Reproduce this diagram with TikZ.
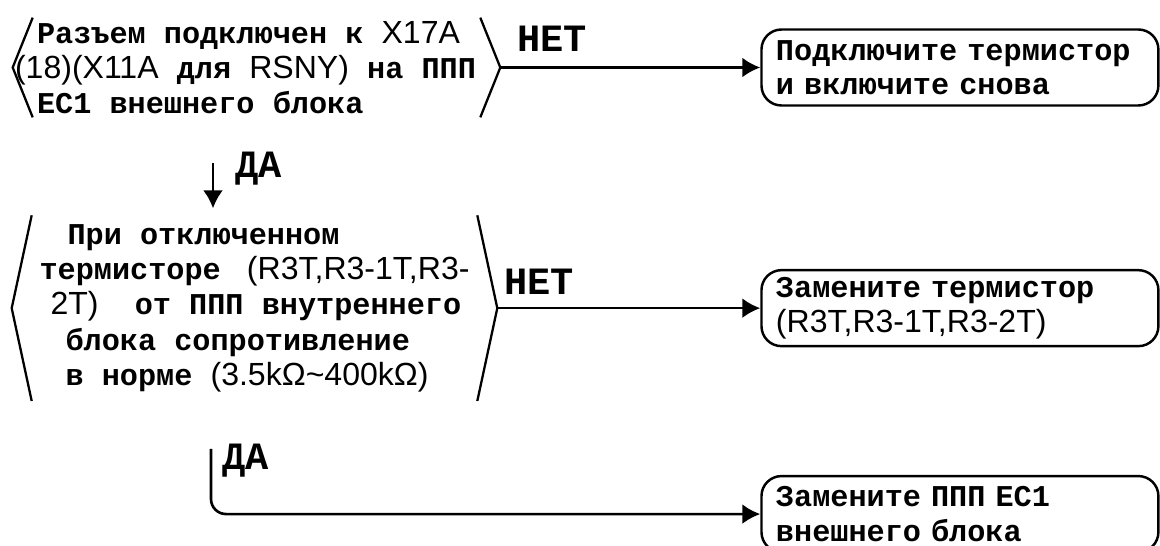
\documentclass[tikz,border=0pt]{standalone}
\usepackage{fontspec}
\setmonofont{Liberation Mono}
\newfontfamily\latfont{Liberation Sans}[Scale=1.06]
\newcommand{\latn}[1]{{\latfont\mdseries #1}}
\usetikzlibrary{positioning,calc,arrows.meta}

\begin{document}
\begin{tikzpicture}[
    x=0.02cm, y=-0.02cm,
    check/.style={rectangle, inner sep=0pt, align=left, font=\ttfamily\bfseries\fontsize{17.2pt}{20.1pt}\selectfont},
    side/.style={line width=1.3pt, line join=miter},
    action/.style={rectangle, rounded corners=0.4cm, draw=black, line width=1.4pt, text width=7.36cm, inner xsep=0.29cm, inner ysep=0pt, minimum height=1.52cm, align=left, font=\ttfamily\bfseries\fontsize{17.2pt}{19.6pt}\selectfont},
    answer/.style={inner sep=0pt, font=\ttfamily\bfseries\fontsize{22pt}{24pt}\selectfont},
    arrow/.style={-{Latex[length=0.36cm,width=0.4cm]}, line width=1.5pt}
]
\useasboundingbox (0,0) rectangle (1160,546);

\node[check, minimum width=9.74cm, minimum height=1.98cm] (dec1) at (256.5,67.5) {Разъем подключен к \latn{X17A}\\\hspace*{-0.44cm}\latn{(18)(X11A} для \latn{RSNY)} на ППП\\EC1 внешнего блока};
\node[check, minimum width=9.7cm, minimum height=3.7cm, below=1.96cm of dec1, xshift=-0.04cm] (dec2) {\hspace*{0.56cm}При отключенном\\термисторе~\hspace{0.16cm}\latn{(R3T,R3-1T,R3-}\\\hspace*{0.22cm}\latn{2T)}~~от ППП внутреннего\\\hspace*{0.52cm}блока сопротивление\\\hspace*{0.52cm}в норме \latn{(3.5kΩ\textasciitilde400kΩ)}};
\foreach \d in {dec1,dec2} {
    \draw[side] ([xshift=0.4cm]\d.north west) -- (\d.west) -- ([xshift=0.4cm]\d.south west);
    \draw[side] ([xshift=-0.4cm]\d.north east) -- (\d.east) -- ([xshift=-0.4cm]\d.south east);
}

\node[action, right=5.2cm of dec1] (act1) {Подключите термистор\\и включите снова};
\node[action, right=5.26cm of dec2] (act2) {Замените термистор\\\latn{(R3T,R3-1T,R3-2T)}};
\node[action, below=2.55cm of act2] (act3) {Замените ППП EC1\\внешнего блока};

\draw[arrow] (dec1.east) -- node[answer, above=0.3cm, pos=0.2] (no1) {НЕТ} (act1.west);
\draw[arrow] (dec2.east) -- node[answer, above=0.24cm, pos=0.16] (no2) {НЕТ} (act2.west);

\coordinate (yes1) at ([xshift=-0.87cm]dec1.south);
\draw[arrow, shorten <=0.92cm, shorten >=0.14cm] (yes1) -- (yes1 |- dec2.north);
\node[answer, anchor=west] (da1) at ([xshift=0.44cm,yshift=-1.02cm]yes1) {ДА};

\coordinate (yes2) at ([xshift=-0.87cm,yshift=-0.96cm]dec2.south);
\draw[arrow, rounded corners=0.3cm] (yes2) |- (act3.west);
\node[answer, anchor=west] (da2) at ([xshift=0.22cm,yshift=-0.24cm]yes2) {ДА};

\end{tikzpicture}
\end{document}
